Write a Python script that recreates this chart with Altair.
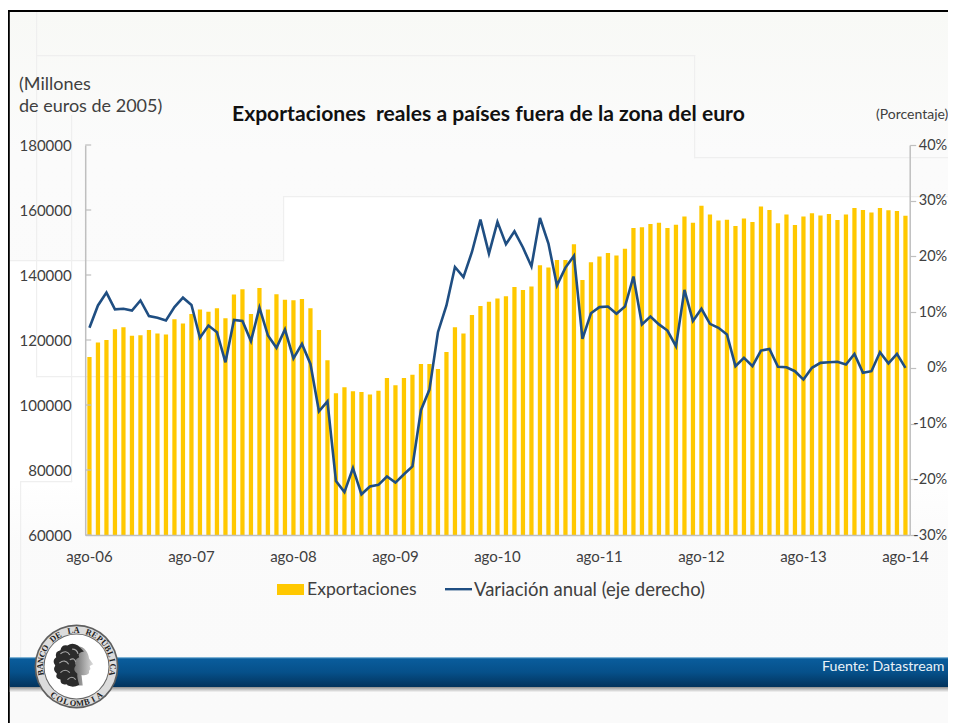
import math
import altair as alt
import pandas as pd

MESES = ["ene","feb","mar","abr","may","jun","jul","ago","sep","oct","nov","dic"]
periodos = []
m, a = 7, 6
for _ in range(97):
    periodos.append(f"{MESES[m]}-{a:02d}")
    m += 1
    if m == 12:
        m, a = 0, a + 1

exportaciones = [114800,119200,120000,123300,123900,121300,121500,123100,122000,121700,126400,125100,
128000,129400,128700,129800,126700,134000,135600,128000,136000,129400,134100,132400,132200,132600,129800,
123100,113800,103600,105500,104200,104000,103200,104400,108300,106100,108300,109300,112600,112600,111100,
116300,123900,122000,127700,130500,131800,132800,133500,136300,135400,136500,143000,142300,144600,144600,
149500,138500,143900,145700,146800,146000,148100,154500,154700,155700,156100,154500,155500,158000,156100,
161300,158600,156800,157000,155100,157400,156300,161100,160000,155900,158600,155400,158000,159000,158300,
158800,156900,158600,160600,160000,159200,160600,159900,159700,158200]
variacion = [7.2,11.2,13.5,10.5,10.6,10.3,12.1,9.3,9.0,8.5,10.9,12.6,11.3,5.4,7.6,6.4,1.0,8.6,8.4,4.8,10.8,5.8,
3.6,6.9,1.7,4.3,0.7,-7.8,-6.0,-20.3,-22.3,-18.0,-22.7,-21.3,-21.0,-19.5,-20.6,-19.1,-17.7,-7.6,-3.9,6.4,11.2,
18.1,16.3,20.8,26.6,20.5,26.2,22.2,24.5,21.6,18.2,26.9,22.3,14.8,18.0,20.1,5.2,9.8,10.9,11.0,9.7,11.0,16.4,
7.8,9.2,7.8,6.7,3.9,14.0,8.4,10.6,7.9,7.2,6.0,0.3,1.8,0.3,3.1,3.4,0.2,0.1,-0.6,-2.1,0.0,0.9,1.0,1.1,0.6,2.5,
-0.9,-0.6,2.8,0.8,2.5,0.0]
etiquetas_x = ["ago-06","ago-07","ago-08","ago-09","ago-10","ago-11","ago-12","ago-13","ago-14"]
ticks_izq = [60000,80000,100000,120000,140000,160000,180000]
ticks_der = [-30,-20,-10,0,10,20,30,40]

FONT = "Lato"
TXT = "#404040"
OX, OY = 77.2, 137.0   # plot origin inside the canvas
W, H = 824.5, 390

df = pd.DataFrame({"periodo": periodos, "exp": exportaciones, "var": variacion})
one = pd.DataFrame({"k": [0]})

def px(x): return x - 8 - OX
def py(y): return y - 8 - OY

def rect(x0, x1, y0, y1, **kw):
    return alt.Chart(one).mark_rect(**kw).encode(
        x=alt.value(px(x0)), x2=alt.value(px(x1)), y=alt.value(py(y0)), y2=alt.value(py(y1)))

def text(s, x, y, size, color=TXT, align="left", **kw):
    return alt.Chart(one).mark_text(text=s, font=FONT, fontSize=size, color=color, align=align,
                                    baseline="middle", **kw).encode(x=alt.value(px(x)), y=alt.value(py(y)))

def grad(stops, horizontal=False):
    return alt.LinearGradient(gradient="linear", x1=0, y1=0, x2=1 if horizontal else 0, y2=0 if horizontal else 1,
                              stops=[alt.GradientStop(offset=o, color=c) for o, c in stops])

def faint(x0, y0, x1, y1):
    return rect(min(x0,x1), max(x0,x1)+1.2, min(y0,y1), max(y0,y1)+1.2, color="#efefef")

layers = []
# background
layers.append(rect(9, 956, 11, 723, color=grad([(0,"#F8F9F6"),(0.2,"#FBFBFB"),(1,"#FAFAFA")])))
layers.append(rect(283, 956, 196, 540, color=grad([(0,"#FFFFFF"),(0.8,"#FFFFFF"),(1,"#FBFBFB")])))
layers.append(rect(9, 283, 260, 540, color=grad([(0,"#FFFFFF"),(0.8,"#FFFFFF"),(1,"#FBFBFB")])))
for seg in [(36,11,36,376),(36,376,165,376),(71,115,71,481),(20,481,71,481),(20,481,20,658),
            (10,260,283,260),(283,196,283,260),(283,196,956,196),(694,55,694,157),(694,157,956,157),(36,55,694,55)]:
    layers.append(faint(*seg))
# frame
layers.append(rect(8, 956, 10, 12, color="#000000"))
layers.append(rect(8, 9.8, 10, 723, color="#000000"))

base = alt.Chart(df)
xenc = alt.X("periodo:N", sort=periodos, title=None,
             scale=alt.Scale(paddingInner=0.5, paddingOuter=0.25),
             axis=alt.Axis(values=etiquetas_x, labelAngle=0, ticks=False, labelFont=FONT, labelFontSize=15,
                           labelColor=TXT, labelPadding=14, domainColor="#bfbfbf", domainWidth=1.5, grid=False,
                           zindex=1))
bars = base.mark_bar(color="#FFC800", clip=True).encode(
    x=xenc,
    y=alt.Y("exp:Q", title=None, scale=alt.Scale(domain=[60000,180000], nice=False, zero=False),
            axis=alt.Axis(values=ticks_izq, ticks=False, labelFont=FONT, labelFontSize=15, labelColor=TXT,
                          labelPadding=14, domainColor="#bfbfbf", domainWidth=1.5, grid=False, format="d", zindex=1)))
line = base.mark_line(color="#1F4E82", strokeWidth=2.6).encode(
    x=alt.X("periodo:N", sort=periodos),
    y=alt.Y("var:Q", title=None, scale=alt.Scale(domain=[-30,40], nice=False),
            axis=alt.Axis(orient="right", values=ticks_der, tickSize=6, tickColor="#bfbfbf", tickWidth=1.2,
                          labelFont=FONT, labelFontSize=14.5, labelColor=TXT, labelPadding=31, labelAlign="right",
                          labelExpr="datum.value + '%'", domainColor="#bfbfbf", domainWidth=1.5, grid=False, zindex=1)))
tick_left = alt.Chart(pd.DataFrame({"t": ticks_izq})).mark_rule(color="#bfbfbf", strokeWidth=1.2).encode(
    x=alt.value(0), x2=alt.value(6),
    y=alt.Y("t:Q", scale=alt.Scale(domain=[60000,180000], nice=False), axis=None))
layers += [bars, line, tick_left]

# texts
layers.append(text("(Millones", 19, 85, 18))
layers.append(text("de euros de 2005)", 19, 107, 18))
layers.append(text("Exportaciones\u00a0 reales a países fuera de la zona del euro", 232, 115, 21.1, color="#111111", fontWeight="bold"))
layers.append(text("(Porcentaje)", 876, 115, 14))
# legend
layers.append(rect(277, 304, 584, 595, color="#FFC800"))
layers.append(rect(445, 472, 588, 590.4, color="#1F4E82"))
layers.append(text("Exportaciones", 307, 590, 17.6))
layers.append(text("Variación anual (eje derecho)", 474, 590, 18.5))
# banner
layers.append(rect(9.8, 956, 686, 692, color=grad([(0,"#777777"),(0.5,"#bbbbbb"),(1,"#f5f5f5")])))
layers.append(rect(9.8, 956, 657.5, 687, color=grad([(0,"#0A5E9E"),(0.5,"#06508A"),(1,"#03335C")])))
layers.append(rect(9.8, 956, 657.5, 658.3, color="#7FB9DC"))
layers.append(text("Fuente: Datastream", 822, 667, 14.2, color="#EAF2F8"))

# seal
CX, CY = 76.5, 666.5
def disc(r, color):
    return alt.Chart(one).mark_arc(radius=r, theta=0, theta2=2*math.pi, color=color).encode(
        x=alt.value(px(CX)), y=alt.value(py(CY)))
layers += [disc(42, "#5f5f5f"), disc(40.3, "#dcdcdc"), disc(33, "#666666"), disc(32, "#ffffff")]
def arc_text(s, a0, a1, r, flip=False):
    out = []
    for i, ch in enumerate(s):
        ang = a0 + (a1 - a0) * i / (len(s) - 1)
        rad = math.radians(ang)
        x, y = CX + r * math.sin(rad), CY - r * math.cos(rad)
        rot = (ang + 180) % 360 if flip else ang % 360
        if ch != " ":
            out.append(alt.Chart(one).mark_text(text=ch, font="Liberation Serif", fontWeight="bold", fontSize=8.5,
                                                color="#222222", angle=rot, baseline="middle", align="center")
                       .encode(x=alt.value(px(x)), y=alt.value(py(y))))
    return out
layers += arc_text("BANCO DE LA REPÚBLICA", -100, 100, 36.5)
layers += arc_text("COLOMBIA", 218, 142, 36.5, flip=True)

SIZE = 2200
face = ("M0.1,-0.8 C0.4,-0.85 0.6,-0.55 0.62,-0.3 L0.8,-0.05 L0.65,0.02 L0.68,0.15 L0.62,0.22 L0.62,0.32 "
        "C0.55,0.42 0.4,0.42 0.3,0.4 L0.35,0.85 L-0.3,0.85 Z")
hair = ("M0.15,-0.85 Q-0.1,-1 -0.3,-0.85 Q-0.55,-0.9 -0.6,-0.65 Q-0.85,-0.6 -0.78,-0.35 Q-0.98,-0.2 -0.82,0 "
        "Q-0.95,0.2 -0.75,0.35 Q-0.85,0.55 -0.6,0.6 Q-0.6,0.85 -0.35,0.8 Q-0.1,1 0.2,0.82 Q0.1,0.5 0.12,0.35 "
        "Q-0.1,0.2 0.05,0 Q-0.05,-0.25 0.2,-0.35 Q0.1,-0.55 0.4,-0.6 Z")
curls = ("M-0.6,-0.5 Q-0.35,-0.7 -0.2,-0.45 M-0.65,-0.1 Q-0.4,-0.3 -0.25,-0.05 M-0.1,-0.7 Q0.1,-0.7 0.15,-0.5 "
         "M-0.6,0.3 Q-0.4,0.1 -0.2,0.3 M-0.3,0.6 Q-0.1,0.4 0.05,0.6 M-0.2,-0.25 Q0,-0.35 0.05,-0.15")
HX, HY = CX - 2, CY - 1
def head(shape, **kw):
    return alt.Chart(one).mark_point(shape=shape, opacity=1, size=SIZE, **kw).encode(
        x=alt.value(px(HX)), y=alt.value(py(HY)))
layers.append(head(face, filled=True, fill=grad([(0,"#555555"),(0.45,"#888888"),(1,"#dddddd")], horizontal=True), strokeWidth=0))
layers.append(head(hair, filled=True, fill="#2b2b2b", strokeWidth=0))
layers.append(head(curls, filled=False, stroke="#a8a8a8", strokeWidth=1.1))

chart = alt.layer(*layers).resolve_scale(y="independent").properties(
    width=W, height=H,
    background="#FFFFFF",
    padding={"left": OX, "top": OY, "right": 940 - OX - W, "bottom": 715 - OY - H},
    autosize=alt.AutoSizeParams(type="none", contains="content"),
).configure_view(stroke=None)

chart.save("out.html", embed_options={"renderer": "svg", "actions": False})
